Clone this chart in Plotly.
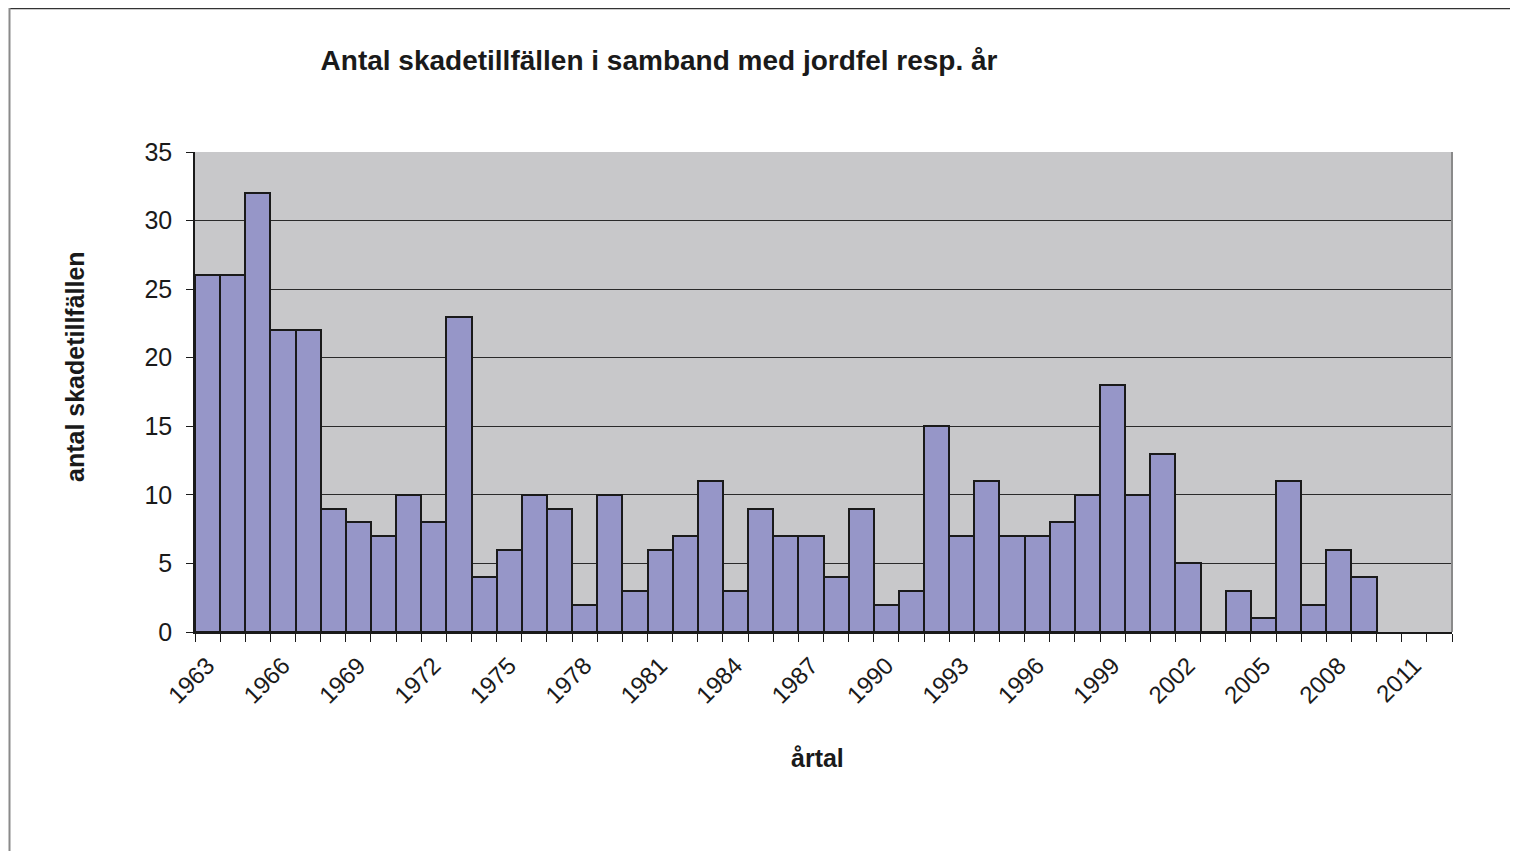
import plotly.graph_objects as go

years = list(range(1963, 2013))
counts = [26, 26, 32, 22, 22, 9, 8, 7, 10, 8,
          23, 4, 6, 10, 9, 2, 10, 3, 6, 7,
          11, 3, 9, 7, 7, 4, 9, 2, 3, 15,
          7, 11, 7, 7, 8, 10, 18, 10, 13, 5,
          0, 3, 1, 11, 2, 6, 4, None, None, None]
tick_years = list(range(1963, 2012, 3))
tick_labels = [str(y) for y in tick_years]
y_ticks = [0, 5, 10, 15, 20, 25, 30, 35]

title_text = "Antal skadetillfällen i samband med jordfel resp. år"
ytitle = "antal skadetillfällen"
xtitle = "årtal"

FONT = "Liberation Sans, Arial, sans-serif"

fig = go.Figure()
fig.add_trace(go.Bar(
    x=years, y=counts,
    marker=dict(color="#9696C8", line=dict(color="#1a1a1a", width=2)),
    width=1.0,
    hoverinfo="x+y",
))

# page is offset by the 8px body margin
OFF = 8
W, H = 1510, 843
L = 195 - OFF
T = 152 - OFF
R = W - (1452 - OFF)
B = H - (632 - OFF)
pw = W - L - R
ph = H - T - B

def px_x(p):
    return (p - OFF - L) / pw

def px_y(p):
    return (H - B - (p - OFF)) / ph

fig.update_layout(
    width=W, height=H,
    margin=dict(l=L, r=R, t=T, b=B, autoexpand=False),
    paper_bgcolor="white",
    plot_bgcolor="#C8C8CA",
    bargap=0,
    showlegend=False,
    font=dict(family=FONT, color="#1a1a1a"),
    title=dict(text="<b>" + title_text + "</b>", x=(659 - OFF) / W, xref="container",
               xanchor="center", y=1 - (60 - OFF) / H, yref="container", yanchor="middle",
               font=dict(size=28, family=FONT, color="#1a1a1a")),
    xaxis=dict(
        range=[1962.5, 2012.5],
        tickmode="array", tickvals=tick_years, ticktext=tick_labels,
        tickangle=-45, ticks="", ticklen=0,
        tickfont=dict(size=24, family=FONT, color="#1a1a1a"),
        showgrid=False, zeroline=False,
        showline=True, linecolor="#1a1a1a", linewidth=2,
        ticklabelstandoff=8,
        minor=dict(tick0=1962.5, dtick=1, ticks="outside", ticklen=8,
                   tickcolor="#1a1a1a", tickwidth=1, showgrid=False),
    ),
    yaxis=dict(
        range=[0, 35], tickmode="array", tickvals=y_ticks,
        ticks="outside", ticklen=7, tickcolor="#1a1a1a", tickwidth=1,
        tickfont=dict(size=25, family=FONT, color="#1a1a1a"),
        showgrid=True, gridcolor="#2a2a2a", gridwidth=1,
        zeroline=False,
        showline=True, linecolor="#1a1a1a", linewidth=1.5,
        ticklabelstandoff=9,
    ),
    annotations=[
        dict(text="<b>" + ytitle + "</b>", x=px_x(75), y=px_y(367), xref="paper", yref="paper",
             textangle=-90, showarrow=False, font=dict(size=25, family=FONT, color="#1a1a1a"),
             xanchor="center", yanchor="middle"),
        dict(text="<b>" + xtitle + "</b>", x=px_x(817), y=px_y(758), xref="paper", yref="paper",
             showarrow=False, font=dict(size=25, family=FONT, color="#1a1a1a"),
             xanchor="center", yanchor="middle"),
    ],
    shapes=[
        dict(type="line", xref="paper", yref="paper", x0=1, x1=1, y0=0, y1=1,
             line=dict(color="#8a8a8a", width=2)),
        dict(type="line", xref="paper", yref="paper", x0=px_x(9), x1=px_x(1530),
             y0=px_y(8.5), y1=px_y(8.5), line=dict(color="#333333", width=1.5)),
        dict(type="line", xref="paper", yref="paper", x0=px_x(9.5), x1=px_x(9.5),
             y0=px_y(8), y1=px_y(860), line=dict(color="#8a8a8a", width=2)),
    ],
)

fig.write_html("out.html")
